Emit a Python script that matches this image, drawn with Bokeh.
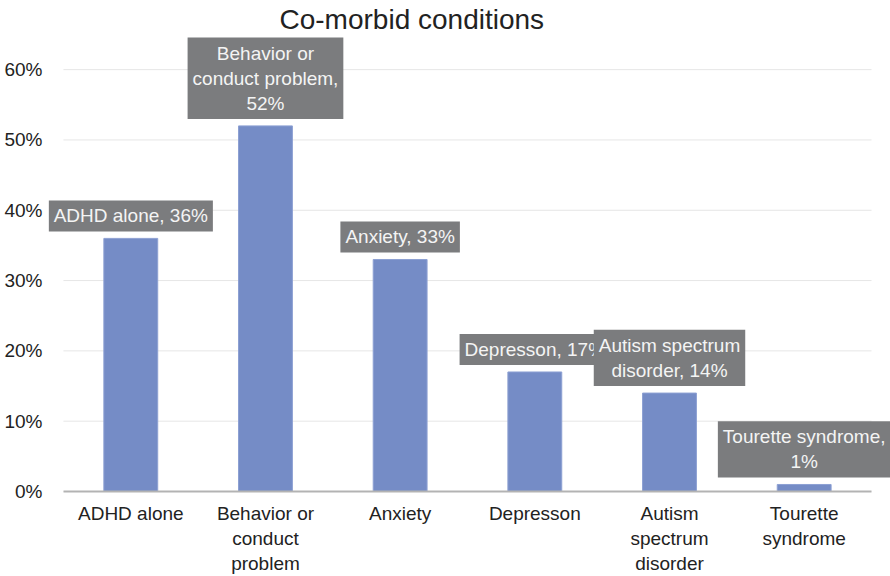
from bokeh.plotting import figure
from bokeh.models import Range1d, FixedTicker, NumeralTickFormatter, ColumnDataSource
from bokeh.core.properties import value
from bokeh.embed import file_html
from bokeh.resources import INLINE

# ---- data ----
categories = ["ADHD alone", "Behavior or conduct problem", "Anxiety", "Depresson",
              "Autism spectrum disorder", "Tourette syndrome"]
tick_labels = ["ADHD alone", "Behavior or\nconduct\nproblem", "Anxiety", "Depresson",
               "Autism\nspectrum\ndisorder", "Tourette\nsyndrome"]
percent = [36, 52, 33, 17, 14, 1]
label_names = ["ADHD alone", "Behavior or\nconduct problem", "Anxiety", "Depresson",
               "Autism spectrum\ndisorder", "Tourette syndrome"]
label_seps = [", ", ",\n", ", ", ", ", ", ", ",\n"]
y_ticks = [0, 0.1, 0.2, 0.3, 0.4, 0.5, 0.6]

FONT = "Liberation Sans"
BAR = "#758cc6"
BOX = "#7b7c7e"

n = len(categories)
xs = [i + 0.5 for i in range(n)]
vals = [v / 100 for v in percent]
labels = [f"{nm}{sep}{v}%" for nm, sep, v in zip(label_names, label_seps, percent)]

src = ColumnDataSource(dict(x=xs, top=vals, label=labels))

p = figure(width=890, height=576, output_backend="svg", toolbar_location=None,
           x_range=Range1d(-0.111, 6.141), y_range=Range1d(0, 0.65),
           min_border_left=48, min_border_right=0, min_border_bottom=85,
           min_border_top=34)
p.outline_line_color = None
p.background_fill_color = "white"
p.border_fill_color = "white"
p.xgrid.visible = False
p.ygrid.visible = False

# gridlines
p.segment(x0=[0] * len(y_ticks), x1=[n] * len(y_ticks), y0=y_ticks, y1=y_ticks,
          line_color="#e6e6e6", line_width=1)

p.vbar(x="x", top="top", width=0.4, source=src, fill_color=BAR,
       line_color="#8da0d3", line_width=1)

p.text(x="x", y="top", text="label", source=src, text_align="center",
       text_baseline="bottom", y_offset=-7, text_color="#f4f4f4",
       text_font=value(FONT), text_font_size="19px", text_line_height=1.2,
       background_fill_color=BOX,
       padding=dict(left=5, right=5, top=5, bottom=5))

# axes
xa = p.xaxis[0]
xa.ticker = FixedTicker(ticks=xs)
xa.major_label_overrides = {x: t for x, t in zip(xs, tick_labels)}
xa.bounds = (0, n)
xa.axis_line_color = "#b3b3b3"
xa.axis_line_width = 2
xa.major_tick_line_color = None
xa.minor_tick_line_color = None
xa.major_label_text_font = FONT
xa.major_label_text_font_size = "19px"
xa.major_label_text_color = "#222222"
xa.major_label_standoff = 5

ya = p.yaxis[0]
ya.ticker = FixedTicker(ticks=y_ticks)
ya.formatter = NumeralTickFormatter(format="0%")
ya.axis_line_color = None
ya.major_tick_line_color = None
ya.minor_tick_line_color = None
ya.major_label_text_font = FONT
ya.major_label_text_font_size = "19px"
ya.major_label_text_color = "#222222"
ya.major_label_standoff = 0

p.title.text = "Co-morbid conditions"
p.title.text_font = FONT
p.title.text_font_size = "28px"
p.title.text_font_style = "normal"
p.title.text_color = "#222222"
p.title.align = "left"
p.title.offset = 231
p.title.standoff = 0

open("out.html", "w").write(file_html(p, INLINE))
